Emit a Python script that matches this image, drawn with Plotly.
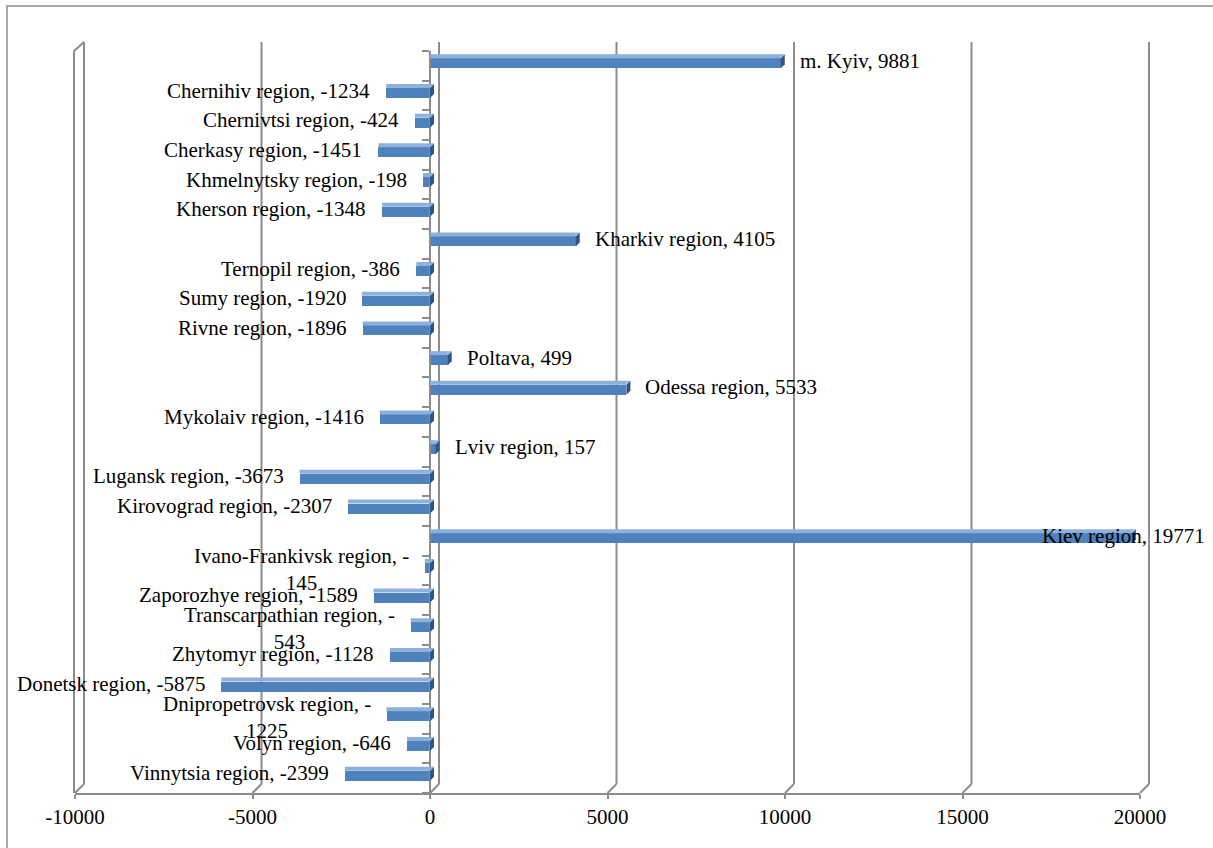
import plotly.graph_objects as go

# Net change by region, listed bottom-to-top as drawn on the category axis
regions = [
    "Vinnytsia region", "Volyn region", "Dnipropetrovsk region", "Donetsk region",
    "Zhytomyr region", "Transcarpathian region", "Zaporozhye region",
    "Ivano-Frankivsk region", "Kiev region", "Kirovograd region", "Lugansk region",
    "Lviv region", "Mykolaiv region", "Odessa region", "Poltava", "Rivne region",
    "Sumy region", "Ternopil region", "Kharkiv region", "Kherson region",
    "Khmelnytsky region", "Cherkasy region", "Chernivtsi region",
    "Chernihiv region", "m. Kyiv",
]
values = [
    -2399, -646, -1225, -5875, -1128, -543, -1589, -145, 19771, -2307, -3673,
    157, -1416, 5533, 499, -1896, -1920, -386, 4105, -1348, -198, -1451, -424,
    -1234, 9881,
]
# labels that break onto a second line after the minus sign
wrapped = {"Ivano-Frankivsk region", "Transcarpathian region", "Dnipropetrovsk region"}

x_ticks = [-10000, -5000, 0, 5000, 10000, 15000, 20000]
x_tick_text = ["-10000", "-5000", "0", "5000", "10000", "15000", "20000"]
X_MIN, X_MAX = -10000, 20000

W, H = 1213, 848
M_L, M_R, M_T, M_B = 75, 73, 51, 55
PLOT_W = W - M_L - M_R
PLOT_H = H - M_T - M_B

FRONT = "#4F81BD"
TOP = "#8EB1DC"
SIDE = "#2F5586"
GRID = "#8C8C8C"
FONT = "Liberation Serif, Times New Roman, serif"
FS = 21

# 3D geometry (depth offsets in pixels, bar sizes in category units)
DX, DY = 9, 9
FACE_OFF, FACE_W, TOP_W = -0.084, 0.337, 0.135
CAP = 4
LABEL_DY = 0.168

idx = list(range(len(regions)))

fig = go.Figure()
fig.add_trace(go.Bar(
    x=values, y=idx, orientation="h",
    width=FACE_W, offset=FACE_OFF,
    marker=dict(color=FRONT, line=dict(width=0)),
    hovertext=regions, hoverinfo="text+x",
))

shapes = []

# chart frame
shapes.append(dict(type="rect", xref="paper", yref="paper",
                   xsizemode="pixel", ysizemode="pixel",
                   xanchor=0, x0=-(M_L - 7), x1=W,
                   yanchor=1, y1=M_T - 6, y0=-H,
                   line=dict(color=GRID, width=1.5), fillcolor="rgba(0,0,0,0)",
                   layer="below"))

# back-wall gridlines with their floor connectors
dy_paper = DY / PLOT_H
for t in x_ticks:
    fx = (t - X_MIN) / (X_MAX - X_MIN)
    shapes.append(dict(type="line", xref="paper", yref="paper",
                       xsizemode="pixel", xanchor=fx, x0=DX, x1=DX,
                       y0=dy_paper, y1=1 + dy_paper,
                       line=dict(color=GRID, width=2), layer="below"))
    shapes.append(dict(type="line", xref="paper", yref="paper",
                       xsizemode="pixel", xanchor=fx, x0=0, x1=DX,
                       y0=0, y1=dy_paper,
                       line=dict(color=GRID, width=2), layer="below"))

# left side wall front edge and top connector
shapes.append(dict(type="line", xref="paper", yref="paper",
                   xsizemode="pixel", xanchor=0, x0=-1, x1=-1, y0=0, y1=1,
                   line=dict(color=GRID, width=2), layer="below"))
shapes.append(dict(type="line", xref="paper", yref="paper",
                   xsizemode="pixel", xanchor=0, x0=-1, x1=DX,
                   y0=1, y1=1 + dy_paper,
                   line=dict(color=GRID, width=2), layer="below"))

# bar top faces and end caps
for i, v in zip(idx, values):
    lo, hi = min(v, 0), max(v, 0)
    y_face_top = i + FACE_OFF + FACE_W
    shapes.append(dict(type="rect", xref="x", yref="y",
                       x0=lo, x1=hi, y0=y_face_top, y1=y_face_top + TOP_W,
                       fillcolor=TOP, line=dict(width=0), layer="above"))
    shapes.append(dict(type="path", xref="x", yref="y",
                       xsizemode="pixel", ysizemode="pixel",
                       xanchor=hi, yanchor=i + FACE_OFF,
                       path=f"M0,0 L0,10 L{CAP},14 L{CAP},4 Z",
                       fillcolor=SIDE, line=dict(width=0), layer="above"))
    shapes.append(dict(type="path", xref="x", yref="y",
                       xsizemode="pixel", ysizemode="pixel",
                       xanchor=hi, yanchor=i + FACE_OFF,
                       path=f"M0,10 L{CAP},14 L0,14 Z",
                       fillcolor=TOP, line=dict(width=0), layer="above"))

# data labels "Region, value"
annotations = []
for i, (name, v) in zip(idx, zip(regions, values)):
    text = f"{name}, {v}"
    yshift = 0
    if name in wrapped:
        text = text.replace(", -", ", -<br>")
        yshift = -4
    ann = dict(y=i + LABEL_DY, yref="y", yanchor="middle", text=text,
               showarrow=False, align="center", yshift=yshift,
               font=dict(family=FONT, size=FS, color="black"))
    if v < 0:
        ann.update(x=v, xref="x", xanchor="right", xshift=-14)
    elif v > X_MAX - 2000:
        ann.update(x=1, xref="paper", xanchor="right", xshift=67)
    else:
        ann.update(x=v, xref="x", xanchor="left", xshift=17)
    annotations.append(ann)

fig.update_layout(
    width=W, height=H,
    margin=dict(l=M_L, r=M_R, t=M_T, b=M_B, pad=0),
    paper_bgcolor="white", plot_bgcolor="white",
    showlegend=False,
    shapes=shapes, annotations=annotations,
    xaxis=dict(range=[X_MIN, X_MAX], tickvals=x_ticks, ticktext=x_tick_text,
               showgrid=False, zeroline=False,
               showline=True, linecolor=GRID, linewidth=2,
               ticks="outside", ticklen=4, tickwidth=2, tickcolor=GRID,
               tickfont=dict(family=FONT, size=FS, color="black"),
               ticklabelstandoff=0),
    yaxis=dict(range=[-0.5, len(regions) - 0.5],
               tickvals=[k - 0.5 for k in range(len(regions) + 1)],
               showticklabels=False, showgrid=False, zeroline=False,
               anchor="free", position=(0 - X_MIN) / (X_MAX - X_MIN),
               showline=True, linecolor=GRID, linewidth=2,
               ticks="outside", ticklen=7, tickwidth=2, tickcolor=GRID),
    bargap=0,
)

fig.write_html("out.html")
